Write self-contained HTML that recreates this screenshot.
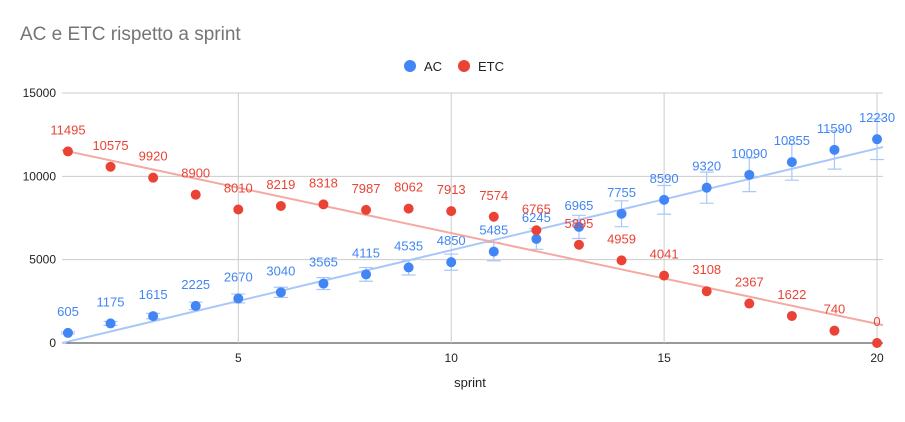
<!DOCTYPE html>
<html><head><meta charset="utf-8"><style>
body{margin:0;background:#fff;font-family:"Liberation Sans",Arial,sans-serif}
svg text{font-family:"Liberation Sans",Arial,sans-serif}
</style></head><body>
<svg id="c" width="905" height="417" xmlns="http://www.w3.org/2000/svg">
<text x="20" y="40" font-size="19" fill="#757575">AC e ETC rispetto a sprint</text>
<g>
<circle cx="410" cy="66" r="6" fill="#4285f4"/>
<text x="424" y="71" font-size="13" fill="#222">AC</text>
<circle cx="464" cy="66" r="6" fill="#ea4335"/>
<text x="478" y="71" font-size="13" fill="#222">ETC</text>
</g>
<text x="470" y="387" font-size="13" fill="#222" text-anchor="middle">sprint</text>
<g id="grid"></g><g id="marks"></g>
</svg>
<script>
const sprints=[1,2,3,4,5,6,7,8,9,10,11,12,13,14,15,16,17,18,19,20];
const acValues=[605,1175,1615,2225,2670,3040,3565,4115,4535,4850,5485,6245,6965,7755,8590,9320,10090,10855,11590,12230];
const etcValues=[11495,10575,9920,8900,8010,8219,8318,7987,8062,7913,7574,6765,5895,4959,4041,3108,2367,1622,740,0];
const yTicks=[0,5000,10000,15000];
const xTicks=[5,10,15,20];
const L=62,R=883,T=93,B=343;
const xMin=0.86,xMax=20.14;
const X=v=>L+(v-xMin)/(xMax-xMin)*(R-L);
const Y=v=>B-v/15000*(B-T);
const NS='http://www.w3.org/2000/svg';
const g=document.getElementById('grid'),m=document.getElementById('marks');
function el(p,t,a){const e=document.createElementNS(NS,t);for(const k in a)e.setAttribute(k,a[k]);p.appendChild(e);return e;}
yTicks.forEach(v=>{
 const l=el(g,'line',{x1:L,x2:R,y1:Y(v),y2:Y(v),stroke:v===0?'#333':'#ccc','stroke-width':1});
 
 
 const t=el(g,'text',{x:L-6,y:Y(v)+4,'font-size':12,fill:'#222','text-anchor':'end'});t.textContent=v;
 
 
});
xTicks.forEach(v=>{
 const l=el(g,'line',{x1:X(v),x2:X(v),y1:T,y2:B,stroke:'#ccc','stroke-width':1});
 
 
 const t=el(g,'text',{x:X(v),y:B+19,'font-size':12,fill:'#222','text-anchor':'middle'});t.textContent=v;
 
 
});
function fit(ys){const n=sprints.length;let sx=0,sy=0,sxy=0,sxx=0;sprints.forEach((x,i)=>{sx+=x;sy+=ys[i];sxy+=x*ys[i];sxx+=x*x;});const b=(n*sxy-sx*sy)/(n*sxx-sx*sx);return [b,(sy-b*sx)/n];}
function series(vals,color,light,name,bars){
 const [b,a]=fit(vals);
 const tl=el(m,'line',{x1:X(xMin),y1:Y(a+b*xMin),x2:X(xMax),y2:Y(a+b*xMax),stroke:light,'stroke-width':2});
 
 
 vals.forEach((v,i)=>{
  const x=X(sprints[i]),y=Y(v);
  if(bars){
   const eb=el(m,'path',{d:`M${x},${Y(v*1.1)}V${Y(v*0.9)}M${x-7},${Y(v*1.1)}H${x+7}M${x-7},${Y(v*0.9)}H${x+7}`,stroke:light,'stroke-width':1.2,fill:'none'});
   
   
  }
  const c=el(m,'circle',{cx:x,cy:y,r:5,fill:color});
  
  
  const t=el(m,'text',{x:x,y:y-17,'font-size':13,fill:color,'text-anchor':'middle'});t.textContent=v;
  
  
 });
}
series(acValues,'#4285f4','#a8c7fa','ac',true);
series(etcValues,'#ea4335','#f4a9a1','etc',false);
</script>
</body></html>
